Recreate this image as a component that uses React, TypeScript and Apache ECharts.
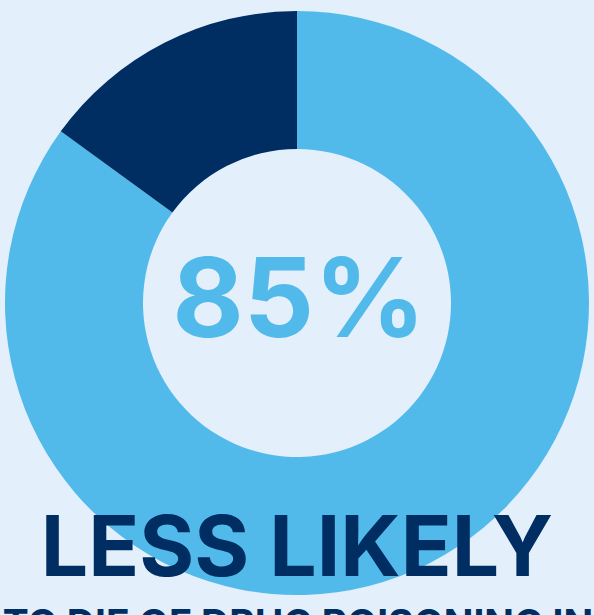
import React, { useEffect, useRef } from "react";
import * as echarts from "echarts";

const categories = ["Less likely", "Remaining"];
const values = [85, 15];
const colors = ["#52BAEA", "#002D62"];
const headline = "85%";
const line1 = "LESS LIKELY";
const line2 = "TO DIE OF DRUG POISONING IN";

export default function App() {
  const ref = useRef<HTMLDivElement>(null);
  useEffect(() => {
    document.body.style.margin = "0";
    const chart = echarts.init(ref.current!, undefined, { renderer: "svg" });
    chart.setOption({
      animation: false,
      backgroundColor: "#E3EFFA",
      series: [
        {
          type: "pie",
          center: [297, 303],
          radius: [154, 292],
          startAngle: 90,
          clockwise: true,
          silent: true,
          z: 1,
          label: { show: false },
          labelLine: { show: false },
          itemStyle: { borderWidth: 0 },
          data: categories.map((c, i) => ({
            name: c,
            value: values[i],
            itemStyle: { color: colors[i] },
          })),
        },
      ],
      graphic: [
        {
          type: "text",
          z: 100,
          x: 299,
          y: 297,
          style: {
            text: headline,
            fill: "#52BAEA",
            font: "bold 110px Inter",
            textAlign: "center",
            textVerticalAlign: "middle",
          },
        },
        {
          type: "text",
          z: 100,
          x: 297,
          y: 545,
          style: {
            text: line1,
            fill: "#002D62",
            font: "bold 84px Inter",
            textAlign: "center",
            textVerticalAlign: "middle",
          },
        },
        {
          type: "text",
          z: 100,
          x: 298,
          y: 623,
          style: {
            text: line2,
            fill: "#002D62",
            font: "bold 39px Inter",
            textAlign: "center",
            textVerticalAlign: "middle",
          },
        },
      ],
    });
    return () => chart.dispose();
  }, []);
  return (
    <div
      ref={ref}
      style={{ position: "absolute", left: 0, top: 0, width: 594, height: 615 }}
    />
  );
}
